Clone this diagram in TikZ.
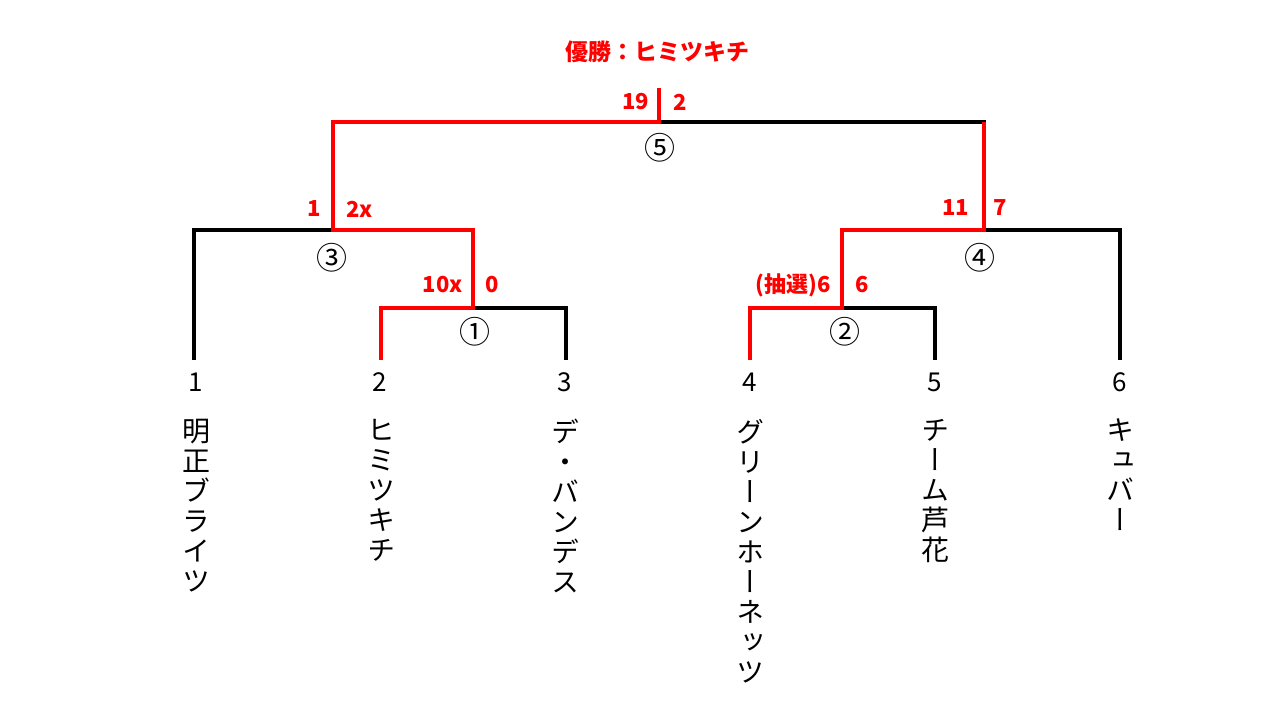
\documentclass[tikz,border=0pt]{standalone}
\usepackage{fontspec}
\setmainfont{Noto Sans CJK JP}
\newfontfamily\vjp[RawFeature=+vert]{Noto Sans CJK JP}

\begin{document}
\begin{tikzpicture}[x=1pt, y=-1pt,
  wire/.style={line width=4pt, draw=black},
  win/.style={line width=4pt, draw=red},
  leafnum/.style={inner sep=0pt, font=\fontsize{26}{26}\selectfont},
  team/.style={anchor=north, inner sep=0pt, align=center, font=\fontsize{28}{30}\selectfont\vjp},
  score/.style={inner sep=0pt, text=red, font=\fontsize{22}{22}\selectfont\bfseries},
  gamenum/.style={inner sep=0pt, font=\fontsize{31}{31}\selectfont}
]
\useasboundingbox (0,0) rectangle (1280,720);
\coordinate (l1) at (194,360);
\coordinate (l2) at (381,360);
\coordinate (l3) at (566,360);
\coordinate (l4) at (750,360);
\coordinate (l5) at (935,360);
\coordinate (l6) at (1120,360);
\coordinate (m1) at (473,308);
\coordinate (m2) at (842,308);
\coordinate (m3) at (333,230);
\coordinate (m4) at (984,230);
\coordinate (m5) at (659,122);
\coordinate (top) at (659,88);
\draw[wire] (l2) |- (m1) -| (l3);
\draw[wire] (l4) |- (m2) -| (l5);
\draw[wire] (l1) |- (m3) -| (m1);
\draw[wire] (m2) |- (m4) -| (l6);
\draw[wire] (m3) |- (m5) -| (m4);
\draw[win] (l2) |- (m1) |- (m3) |- (m5) -- (top);
\draw[win] (l4) |- (m2) |- (m4) -- (m4 |- m5);
\node[score, font=\fontsize{23}{23}\selectfont\bfseries] (champ) at (657,52) {優勝：ヒミツキチ};
\node[score, anchor=east] (s5a) at (649,102) {19};
\node[score, anchor=west] (s5b) at (673,102) {2};
\node[score, anchor=east] (s3a) at (321,209) {1};
\node[score, anchor=west] (s3b) at (346,209) {2x};
\node[score, anchor=east] (s1a) at (463,285) {10x};
\node[score, anchor=west] (s1b) at (485,285) {0};
\node[score, anchor=east] (s4a) at (969,208) {11};
\node[score, anchor=west] (s4b) at (993,208) {7};
\node[score, anchor=east] (s2a) at (831,285) {(抽選)6};
\node[score, anchor=west] (s2b) at (855,285) {6};
\node[gamenum] (g1) at (475,332) {①};
\node[gamenum] (g2) at (845,332) {②};
\node[gamenum] (g3) at (332,258) {③};
\node[gamenum] (g4) at (980,258) {④};
\node[gamenum] (g5) at (660,148) {⑤};
\node[leafnum] (n1) at (196,382) {1};
\node[leafnum] (n2) at (380,382) {2};
\node[leafnum] (n3) at (565,382) {3};
\node[leafnum] (n4) at (750,382) {4};
\node[leafnum] (n5) at (935,382) {5};
\node[leafnum] (n6) at (1120,382) {6};
\node[team] (t1) at (196,419) {明\\正\\ブ\\ラ\\イ\\ツ};
\node[team] (t2) at (381,419) {ヒ\\ミ\\ツ\\キ\\チ};
\node[team] (t3) at (565,419) {デ\\・\\バ\\ン\\デ\\ス};
\node[team] (t4) at (750,419) {グ\\リ\\ー\\ン\\ホ\\ー\\ネ\\ッ\\ツ};
\node[team] (t5) at (935,419) {チ\\ー\\ム\\芦\\花};
\node[team] (t6) at (1120,419) {キ\\ュ\\バ\\ー};
\end{tikzpicture}
\end{document}
